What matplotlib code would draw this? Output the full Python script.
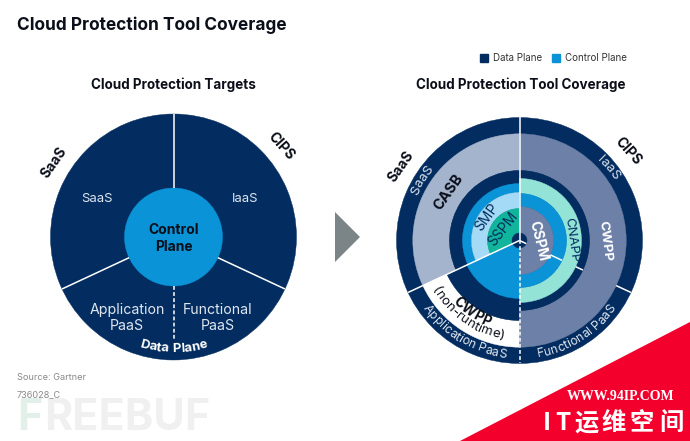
import matplotlib
matplotlib.use("Agg")
import numpy as np
import matplotlib.pyplot as plt
from matplotlib.patches import Polygon, Rectangle
from matplotlib.font_manager import FontProperties
from matplotlib.textpath import TextToPath

W, H = 690, 441
FONT = "Inter"
plt.rcParams['font.family'] = [FONT, 'Noto Sans CJK SC', 'DejaVu Sans']

NAVY = "#032d60"; BLUE = "#0a93d6"; LIGHT = "#a4daf5"; GREEN = "#10b59b"; AQUA = "#93e3d6"
SLATE_L = "#a5b4cd"; SLATE_D = "#6c80a8"; INK = "#0b0f1a"; GREY = "#8a8a8a"

# sector boundaries, clockwise from 12 o'clock
saas = (245, 360); iaas_fn = (0, 180); app = (180, 245)
full = (0, 360)
left_rings = [(full, 0, 123, NAVY), (full, 0, 49, BLUE)]
right_rings = [
    (full, 0, 123, NAVY),
    (saas, 70, 106.7, SLATE_L), (saas, 57, 70, NAVY), (saas, 48, 57, BLUE),
    (saas, 32, 48, LIGHT), (saas, 0, 32, GREEN),
    (app, 80, 106.7, "white"), (app, 58, 80, NAVY), (app, 0, 58, BLUE),
    (iaas_fn, 70, 106.7, SLATE_D), (iaas_fn, 62, 70, NAVY), (iaas_fn, 47, 62, AQUA),
    (iaas_fn, 34, 47, BLUE), (iaas_fn, 0, 34, SLATE_D),
    (full, 0, 7.5, NAVY),
]
left_dividers = [(0, 49, 123, '-'), (115, 49, 123, '-'), (245, 49, 123, '-'), (180, 49, 103, '--')]
right_dividers = [(0, 0, 123, '-'), (180, 0, 123, '--'), (245, 0, 123, '-'),
                  (115, 0, 7.5, '-'), (115, 34, 47, '-'), (115, 62, 70, '-'), (115, 106.7, 123, '-')]

banner_chars = ["I", "T", "运", "维", "空", "间"]
banner_x = [547, 563, 587, 614, 642, 671]

fig = plt.figure(figsize=(W / 100, H / 100), dpi=100, facecolor="white")

def px(x, y):
    return x / W, 1 - y / H

def ftext(x, y, s, **k):
    fx, fy = px(x, y)
    k.setdefault('va', 'center')
    return fig.text(fx, fy, s, **k)

RMAX = 150
def polar_axes(cx, cy):
    ax = fig.add_axes([(cx - RMAX) / W, 1 - (cy + RMAX) / H, 2 * RMAX / W, 2 * RMAX / H], projection='polar')
    ax.set_theta_zero_location('N'); ax.set_theta_direction(-1)
    ax.set_ylim(0, RMAX); ax.axis('off'); ax.patch.set_alpha(0)
    return ax

def rings(ax, data):
    for (a0, a1), r0, r1, c in data:
        ax.bar(np.radians((a0 + a1) / 2), r1 - r0, width=np.radians(a1 - a0), bottom=r0,
               color=c, edgecolor=c, linewidth=0.3)

def dividers(ax, data):
    for a, r0, r1, ls in data:
        line, = ax.plot([np.radians(a)] * 2, [r0, r1], color="white", lw=1.1, solid_capstyle='butt')
        if ls == '--':
            line.set_dashes((2.5, 1.5))

t2p = TextToPath()
def arc_text(ax, s, clock, r, size, color, bottom=False, weight='normal', spacing=1.0):
    """Place s character by character along a circle, centred on clock angle."""
    fp = FontProperties(family=FONT, size=size, weight=weight)
    width = lambda t: t2p.get_text_width_height_descent(t, fp, False)[0] * 100 / 72 * spacing
    total = width(s)
    for i, ch in enumerate(s):
        mid = width(s[:i]) + width(ch) / 2 - total / 2
        da = np.degrees(mid / r)
        a = clock - da if bottom else clock + da
        rot = 180 - a if bottom else -a
        ax.text(np.radians(a), r, ch, fontproperties=fp, color=color, rotation=rot,
                rotation_mode='anchor', ha='center', va='center')

def rot_text(ax, s, clock, r, rot, size, color, weight='normal'):
    ax.text(np.radians(clock), r, s, fontsize=size, color=color, rotation=rot, weight=weight,
            rotation_mode='anchor', ha='center', va='center')

# Watermark
ftext(17, 418, "F", fontsize=31, weight='bold', color="#e3efe9", ha='left')
ftext(44, 418, "REEBUF", fontsize=31, weight='bold', color="#f0f0f0", ha='left')

# Titles
ftext(17, 25, "Cloud Protection Tool Coverage", fontsize=12.45, weight='bold', color=INK, ha='left')
ftext(173.5, 85, "Cloud Protection Targets", fontsize=9.7, weight='bold', color=INK, ha='center')
ftext(521, 85, "Cloud Protection Tool Coverage", fontsize=9.7, weight='bold', color=INK, ha='center')

# Legend
legend_names = ["Data Plane", "Control Plane"]
for x, name, c in zip([480, 552], legend_names, [NAVY, BLUE]):
    fig.add_artist(Rectangle(px(x, 62), 8 / W, 8 / H, transform=fig.transFigure, color=c))
    ftext(x + 13, 58, name, fontsize=7, color="#333333", ha='left')

# Left chart
axL = polar_axes(173.5, 237)
rings(axL, left_rings); dividers(axL, left_dividers)
ftext(173.5, 230, "Control", fontsize=10, weight='bold', color=INK, ha='center')
ftext(173.5, 247, "Plane", fontsize=10, weight='bold', color=INK, ha='center')
for x, y, s, fs in [(96.5, 199, "SaaS", 9.4), (245, 199, "IaaS", 9.4), (127, 310, "Application", 10.2),
                    (127, 326, "PaaS", 10.2), (218, 310, "Functional", 10.2), (218, 326, "PaaS", 10.2)]:
    ftext(x, y, s, fontsize=fs, color="#dfe6f0", ha='center')
arc_text(axL, "Data Plane", 180, 112, 9.4, "white", bottom=True, weight='bold')
rot_text(axL, "SaaS", 302, 141, 55, 10, INK, 'bold')
rot_text(axL, "CIPS", 50, 141, -48, 10, INK, 'bold')

# Arrow
fig.add_artist(Polygon([px(335, 212), px(360, 237), px(335, 262)], transform=fig.transFigure,
                       color="#7b8587", lw=0))

# Right chart
axR = polar_axes(519.5, 240.5)
rings(axR, right_rings); dividers(axR, right_dividers)
rot_text(axR, "SaaS", 302, 140, 55, 10, INK, 'bold')
rot_text(axR, "CIPS", 50.5, 141, -48, 10, INK, 'bold')
arc_text(axR, "SaaS", 301.6, 115, 9.6, "#dfe6f0")
arc_text(axR, "IaaS", 50.6, 115, 9.6, "#dfe6f0")
arc_text(axR, "Application PaaS", 211, 115, 8.8, "#dfe6f0", bottom=True)
arc_text(axR, "Functional PaaS", 148, 115, 8.8, "#dfe6f0", bottom=True)
rot_text(axR, "CASB", 304, 86, 55, 10.4, INK, 'bold')
rot_text(axR, "CWPP", 90, 85, -83, 9.6, "white", 'bold')
rot_text(axR, "SMP", 306, 40, 54, 10, NAVY)
rot_text(axR, "SSPM", 305, 20, 52, 10, NAVY)
rot_text(axR, "CNAPP", 90, 52, -82, 9.5, NAVY)
rot_text(axR, "CSPM", 90, 19, -76, 10, "white", 'bold')
arc_text(axR, "(non-runtime)", 215, 97, 9.6, INK, bottom=True)
arc_text(axR, "CWPP", 214, 87, 10, INK, bottom=True, weight='bold')

# Source notes
ftext(17, 378, "Source: Gartner", fontsize=6.6, color=GREY, ha='left')
ftext(17, 395, "736028_C", fontsize=6.6, color=GREY, ha='left')

# Corner banner
fig.add_artist(Polygon([px(690, 322), px(690, 441), px(460, 441)], transform=fig.transFigure,
                       color="#f4002d", lw=0))
ftext(621, 397, "WWW.94IP.COM", fontsize=10, weight='bold', color="white", ha='center', family='Liberation Serif')
for x, ch in zip(banner_x, banner_chars):
    ftext(x, 423, ch, fontsize=17.5, weight='bold', color="white", ha='center',
          family=['Noto Sans CJK SC', 'DejaVu Sans'])

fig.savefig("out.png", dpi=100, facecolor="white")
